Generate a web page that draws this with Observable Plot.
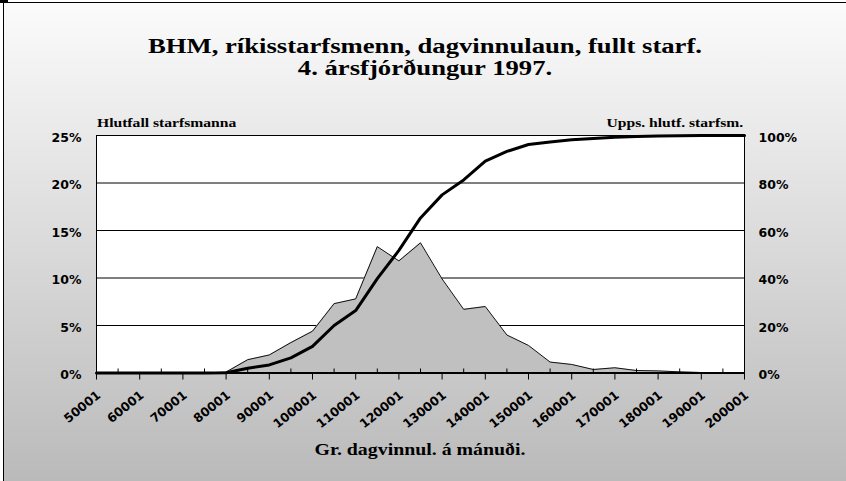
<!DOCTYPE html>
<html>
<head>
<meta charset="utf-8">
<script src="https://cdn.jsdelivr.net/npm/d3@7"></script>
<script src="https://cdn.jsdelivr.net/npm/@observablehq/plot@0.6"></script>
<style>
html, body { margin: 0; padding: 0; background: #fff; overflow: hidden; }
#wrap { position: relative; width: 846px; height: 481px; overflow: hidden; }
#bg { position: absolute; left: 3px; top: 2px; width: 842px; height: 478px;
      border-top: 1px solid #000; border-left: 1px solid #000;
      background: linear-gradient(#fbfbfb, #bababa); }
#blob { position: absolute; left: 0; top: 0; width: 8px; height: 3px; background: #000; }
#chart { position: absolute; left: 0; top: 0; }
.serif { position: absolute; font-family: "Liberation Serif", "Times New Roman", serif;
         font-weight: bold; white-space: nowrap; line-height: 1; color: #000; }
#t1, #t2 { left: 125px; width: 600px; text-align: center; font-size: 20px; line-height: 20px;
           transform: scaleX(1.333); transform-origin: 50% 0; }
#t1 { top: 36px; }
#t2 { top: 58.3px; }
#ylab { left: 96.5px; top: 116.5px; font-size: 12.6px; transform: scaleX(1.24); transform-origin: 0 0; }
#y2lab { right: 102.5px; top: 116.5px; font-size: 12.6px; text-align: right;
         transform: scaleX(1.24); transform-origin: 100% 0; }
#xlab { left: 220px; width: 400px; top: 441.5px; font-size: 16px; text-align: center;
        transform: scaleX(1.24); transform-origin: 50% 0; }
</style>
</head>
<body>
<div id="wrap">
  <div id="bg"></div>
  <div id="blob"></div>
  <div id="chart"></div>
  <div class="serif" id="t1">BHM, ríkisstarfsmenn, dagvinnulaun, fullt starf.</div>
  <div class="serif" id="t2">4. ársfjórðungur 1997.</div>
  <div class="serif" id="ylab">Hlutfall starfsmanna</div>
  <div class="serif" id="y2lab">Upps. hlutf. starfsm.</div>
  <div class="serif" id="xlab">Gr. dagvinnul. á mánuði.</div>
</div>
<script>
// Salary class lower bounds (kr. per month)
const categories = [50001, 55001, 60001, 65001, 70001, 75001, 80001, 85001, 90001, 95001,
  100001, 105001, 110001, 115001, 120001, 125001, 130001, 135001, 140001, 145001,
  150001, 155001, 160001, 165001, 170001, 175001, 180001, 185001, 190001, 195001, 200001];
// Hlutfall starfsmanna (%)
const share = [0, 0, 0, 0, 0, 0, 0.1, 1.4, 1.9, 3.2,
  4.4, 7.3, 7.8, 13.3, 11.8, 13.7, 9.9, 6.7, 7.0, 4.0,
  2.9, 1.15, 0.9, 0.37, 0.55, 0.26, 0.22, 0.12, 0.05, 0, 0];
// Uppsafnað hlutfall starfsmanna (%)
const cumShare = [0, 0, 0, 0, 0, 0, 0.1, 2.0, 3.4, 6.4,
  11.2, 20.0, 26.3, 39.7, 51.6, 65.3, 75.0, 81.3, 89.2, 93.3,
  96.2, 97.3, 98.2, 98.7, 99.3, 99.6, 99.8, 99.9, 100, 100, 100];
const leftTicks = [0, 5, 10, 15, 20, 25];
const rightTicks = [0, 20, 40, 60, 80, 100];
const labelCats = [50001, 60001, 70001, 80001, 90001, 100001, 110001, 120001,
  130001, 140001, 150001, 160001, 170001, 180001, 190001, 200001];

const midCats = categories.filter(c => !labelCats.includes(c));
const rows = categories.map((c, i) => ({c, share: share[i], cum: cumShare[i]}));
const ratio = leftTicks[leftTicks.length - 1] / rightTicks[rightTicks.length - 1];

const sans = "'DejaVu Sans', sans-serif";

const chart = Plot.plot({
  width: 846,
  height: 481,
  marginLeft: 96,
  marginRight: 102,
  marginTop: 135,
  marginBottom: 108.5,
  style: {background: "transparent", fontFamily: sans, fontWeight: "bold", fontSize: "12.5px", color: "#000"},
  x: {domain: [categories[0], categories[categories.length - 1]]},
  y: {domain: [0, 25]},
  marks: [
    Plot.frame({fill: "white", stroke: null}),
    Plot.ruleY(leftTicks.slice(1, -1), {stroke: "black", strokeWidth: 1}),
    Plot.areaY(rows, {x: "c", y: "share", fill: "#c0c0c0"}),
    Plot.lineY(rows, {x: "c", y: "share", stroke: "#111", strokeWidth: 1}),
    Plot.frame({stroke: "black", strokeWidth: 1}),
    Plot.ruleY([0], {stroke: "black", strokeWidth: 2}),
    Plot.lineY(rows, {x: "c", y: d => d.cum * ratio, stroke: "black", strokeWidth: 3, strokeLinejoin: "round"}),
    Plot.axisX(labelCats, {anchor: "bottom", tickSize: 7, tickFormat: () => "", label: null, stroke: "black"}),
    Plot.axisX(midCats, {anchor: "bottom", tickSize: 4, dy: -4, tickFormat: () => "", label: null, stroke: "black"}),
    Plot.text(labelCats, {x: d => d, frameAnchor: "bottom", text: d => String(d), rotate: -39,
      textAnchor: "end", lineAnchor: "middle", dx: 2.5, dy: 20.5, fontFamily: sans, fontWeight: "bold", fontSize: 12.3, fill: "black"}),
    Plot.axisY(leftTicks, {anchor: "left", tickSize: 0, tickPadding: 15, dy: 2,
      tickFormat: d => d + "%", label: null, fill: "black"}),
    Plot.axisY(leftTicks, {anchor: "right", tickSize: 0, tickPadding: 14, dy: 2,
      tickFormat: d => rightTicks[leftTicks.indexOf(d)] + "%", label: null, fill: "black"})
  ]
});
document.getElementById("chart").appendChild(chart);
</script>
</body>
</html>
